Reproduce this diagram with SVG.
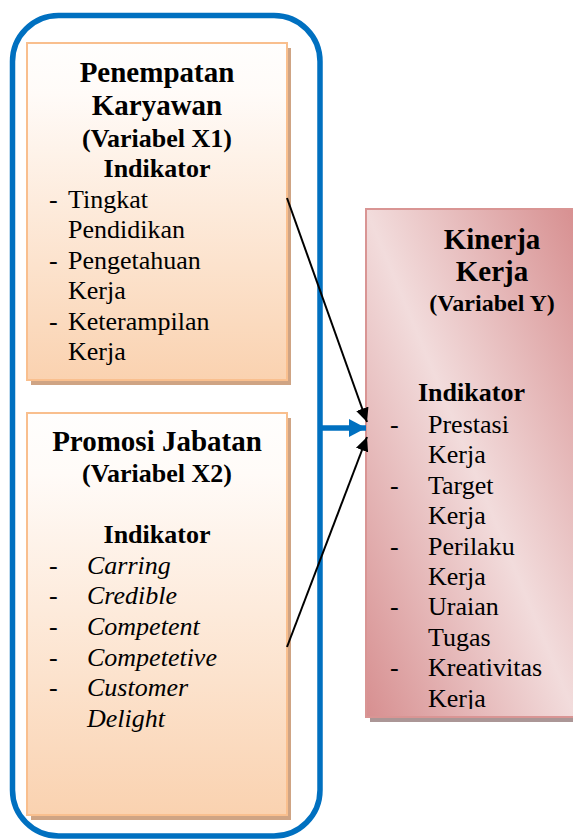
<svg xmlns="http://www.w3.org/2000/svg" width="573" height="839" viewBox="0 0 573 839">
<style>
.t{font-family:'Liberation Serif','Times New Roman',Tinos,'DejaVu Serif',serif;fill:#000}
.h{font-weight:bold;font-size:29px}
.s{font-weight:bold;font-size:26px}
.sy{font-weight:bold;font-size:24px}
.r{font-size:26px}
.i{font-size:26px;font-style:italic}
.c{text-anchor:middle}
.ob{stroke:#f9bf8e;stroke-width:2;fill:url(#og)}
.osh{fill:#cfa484}
</style>
<defs>
<linearGradient id="og" x1="0" y1="0" x2="0" y2="1">
<stop offset="0" stop-color="#fffefd"/>
<stop offset="0.15" stop-color="#fffbf8"/>
<stop offset="1" stop-color="#fad2b0"/>
</linearGradient>
<linearGradient id="pg" x1="1" y1="0" x2="0" y2="1">
<stop offset="0" stop-color="#d78f90"/>
<stop offset="0.5" stop-color="#f2dcdc"/>
<stop offset="1" stop-color="#d78f90"/>
</linearGradient>
<marker id="ab" markerUnits="userSpaceOnUse" markerWidth="14" markerHeight="13" refX="14" refY="6.5" orient="auto">
<path d="M0,0 L14,6.5 L0,13 Z" fill="#000"/>
</marker>
<marker id="au" markerUnits="userSpaceOnUse" markerWidth="17" markerHeight="18" refX="17" refY="9" orient="auto">
<path d="M0,0 L17,9 L0,18 Z" fill="#0070c0"/>
</marker>
<clipPath id="yc"><rect x="366" y="209" width="210" height="500"/></clipPath>
</defs>
<g id="frame">
<rect x="12.5" y="15.5" width="307.5" height="820.5" rx="46" ry="46" fill="none" stroke="#0070c0" stroke-width="5.5"/>
</g>
<g id="x1">
<rect class="osh" x="31" y="48" width="260" height="337"/>
<rect class="ob" x="27" y="43" width="260" height="337"/>
<text class="t h c" x="157" y="82">Penempatan</text>
<text class="t h c" x="157" y="115">Karyawan</text>
<text class="t s c" x="157" y="147">(Variabel X1)</text>
<text class="t s c" x="157" y="177">Indikator</text>
<text class="t r" x="49" y="208">-</text><text class="t r" x="68" y="208">Tingkat</text>
<text class="t r" x="68" y="238">Pendidikan</text>
<text class="t r" x="49" y="269">-</text><text class="t r" x="68" y="269">Pengetahuan</text>
<text class="t r" x="68" y="299">Kerja</text>
<text class="t r" x="49" y="330">-</text><text class="t r" x="68" y="330">Keterampilan</text>
<text class="t r" x="68" y="360">Kerja</text>
</g>
<g id="x2">
<rect class="osh" x="31" y="418" width="260" height="402"/>
<rect class="ob" x="27" y="413" width="260" height="402"/>
<text class="t h c" x="157" y="451">Promosi Jabatan</text>
<text class="t s c" x="157" y="482">(Variabel X2)</text>
<text class="t s c" x="157" y="543">Indikator</text>
<text class="t r" x="49" y="574">-</text><text class="t i" x="87" y="574">Carring</text>
<text class="t r" x="49" y="604">-</text><text class="t i" x="87" y="604">Credible</text>
<text class="t r" x="49" y="635">-</text><text class="t i" x="87" y="635">Competent</text>
<text class="t r" x="49" y="666">-</text><text class="t i" x="87" y="666">Competetive</text>
<text class="t r" x="49" y="696">-</text><text class="t i" x="87" y="696">Customer</text>
<text class="t i" x="87" y="727">Delight</text>
</g>
<g id="y">
<rect x="370" y="214" width="210" height="508" fill="#ab9696"/>
<rect x="366" y="209" width="210" height="508" fill="url(#pg)" stroke="#d99594" stroke-width="2"/>
<text class="t h c" x="492" y="249">Kinerja</text>
<text class="t h c" x="492" y="281">Kerja</text>
<text class="t sy c" x="492" y="311">(Variabel Y)</text>
<text class="t s" x="418" y="401">Indikator</text>
<g clip-path="url(#yc)">
<text class="t r" x="390" y="433">-</text><text class="t r" x="428" y="433">Prestasi</text>
<text class="t r" x="428" y="463.4">Kerja</text>
<text class="t r" x="390" y="493.8">-</text><text class="t r" x="428" y="493.8">Target</text>
<text class="t r" x="428" y="524.2">Kerja</text>
<text class="t r" x="390" y="554.6">-</text><text class="t r" x="428" y="554.6">Perilaku</text>
<text class="t r" x="428" y="585">Kerja</text>
<text class="t r" x="390" y="615.4">-</text><text class="t r" x="428" y="615.4">Uraian</text>
<text class="t r" x="428" y="645.8">Tugas</text>
<text class="t r" x="390" y="676.2">-</text><text class="t r" x="428" y="676.2">Kreativitas</text>
<text class="t r" x="428" y="706.6">Kerja</text>
</g>
</g>
<g id="connectors">
<line x1="287" y1="198" x2="367" y2="422" stroke="#000" stroke-width="2" marker-end="url(#ab)"/>
<line x1="287" y1="647" x2="367" y2="437" stroke="#000" stroke-width="2" marker-end="url(#ab)"/>
<line x1="322" y1="428" x2="366" y2="428" stroke="#0070c0" stroke-width="5.5" marker-end="url(#au)"/>
</g>
</svg>
